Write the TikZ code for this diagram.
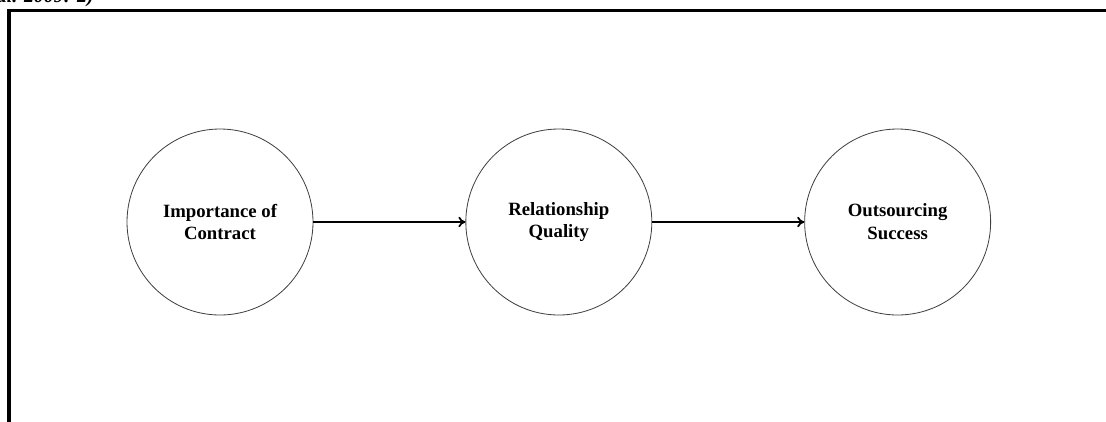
\documentclass[tikz,border=0pt]{standalone}
\usepackage{fontspec}
\setmainfont{Liberation Serif}
\usetikzlibrary{positioning,arrows.meta}
\begin{document}
\begin{tikzpicture}[
  construct/.style={circle,draw=black!75,line width=0.7pt,minimum size=5.58cm,inner sep=0pt,align=center,font=\bfseries\fontsize{16}{19.6}\selectfont},
  link/.style={-{To[length=6pt,width=9pt]},line width=1.5pt},
  node distance=4.56cm]
\useasboundingbox (0,0) rectangle (33.18,-12.63);
\clip (0,0) rectangle (33.18,-12.63);
\node[anchor=base west,inner sep=0pt,font=\bfseries\itshape\fontsize{17}{19}\selectfont] (cite) at (-0.1,-0.06) {al. 2009: 2)};
\draw[line width=2.6pt] (33.4,-0.315) -| (0.27,-12.9);
\node[construct] (contract) at (6.6,-6.66) {Importance of\\Contract};
\node[construct,right=of contract] (quality) {Relationship\\Quality};
\node[construct,right=of quality] (success) {Outsourcing\\Success};
\draw[link] (contract) -- (quality);
\draw[link] (quality) -- (success);
\end{tikzpicture}
\end{document}
